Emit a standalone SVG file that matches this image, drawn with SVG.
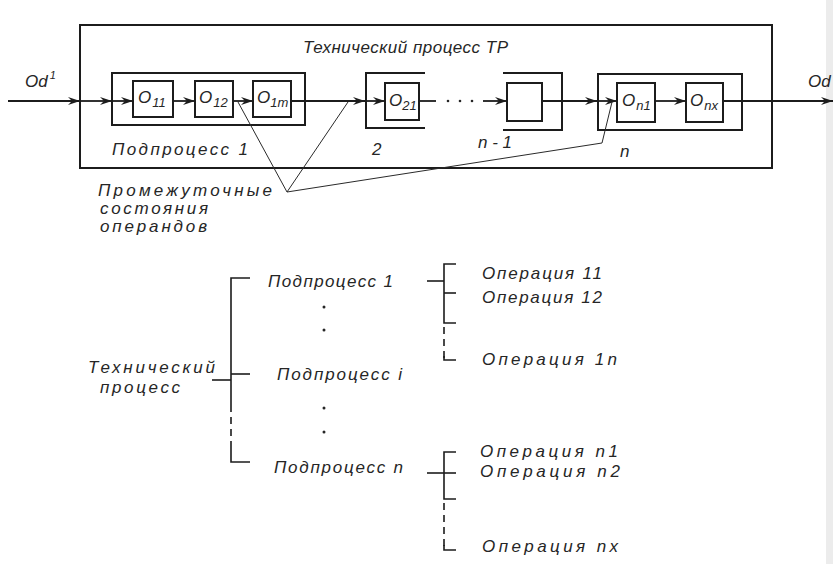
<svg xmlns="http://www.w3.org/2000/svg" width="833" height="564" viewBox="0 0 833 564">
<defs>
<style>
.bx{fill:none;stroke:#1c1c1c;stroke-width:2}
.fl{fill:none;stroke:#1c1c1c;stroke-width:1.8}
.ld{fill:none;stroke:#2a2a2a;stroke-width:1}
.tr{fill:none;stroke:#1c1c1c;stroke-width:1.6}
.ds{stroke-dasharray:7 5}
text{font-family:"Liberation Sans","DejaVu Sans",sans-serif;font-style:italic;font-size:17px;fill:#262626}
.sub{font-size:13px}
.sup{font-size:11px}
.dot{fill:#262626}
</style>
<marker id="ah" markerUnits="userSpaceOnUse" markerWidth="13" markerHeight="8" refX="12" refY="4" orient="auto">
<path d="M0,0 L12,4 L0,8 L4,4 Z" fill="#1c1c1c"/>
</marker>
</defs>
<rect x="0" y="0" width="833" height="564" fill="#ffffff"/>
<rect x="826" y="0" width="7" height="564" fill="#ececec"/>

<g id="outer-process">
<rect class="bx" x="80" y="25" width="692" height="143"/>
<text x="303" y="53" textLength="205">Технический процесс ТР</text>
</g>

<g id="subprocess-1">
<rect class="bx" x="112" y="73" width="193" height="52"/>
<text x="112" y="155" textLength="136">Подпроцесс 1</text>
</g>
<g id="op-11">
<rect class="bx" x="133" y="81" width="40" height="36"/>
<text x="138" y="103">O<tspan class="sub" dx="1" dy="4">11</tspan></text>
</g>
<g id="op-12">
<rect class="bx" x="195" y="81" width="38" height="36"/>
<text x="199" y="103">O<tspan class="sub" dx="1" dy="4">12</tspan></text>
</g>
<g id="op-1m">
<rect class="bx" x="253" y="81" width="38" height="36"/>
<text x="257" y="103">O<tspan class="sub" dy="4">1m</tspan></text>
</g>

<g id="subprocess-2">
<path class="bx" d="M425,73 H366 V128 H425"/>
<text x="372" y="155">2</text>
</g>
<g id="op-21">
<rect class="bx" x="385" y="83" width="34" height="37"/>
<text x="389" y="106">O<tspan class="sub" dy="4">21</tspan></text>
</g>

<g id="subprocess-n-1">
<path class="bx" d="M503,73 H562 V130 H503"/>
<rect class="bx" x="507" y="83" width="35" height="38"/>
<text x="478" y="148" textLength="34">n-1</text>
</g>

<g id="subprocess-n">
<rect class="bx" x="598" y="74" width="144" height="56"/>
<text x="620" y="157">n</text>
</g>
<g id="op-n1">
<rect class="bx" x="617" y="83" width="38" height="39"/>
<text x="622" y="106">O<tspan class="sub" dx="1" dy="4">n1</tspan></text>
</g>
<g id="op-nx">
<rect class="bx" x="686" y="83" width="37" height="39"/>
<text x="690" y="106">O<tspan class="sub" dx="1" dy="4">nx</tspan></text>
</g>

<g id="input-label">
<text x="25" y="87">Od<tspan class="sup" dx="2" dy="-8">1</tspan></text>
</g>
<g id="output-label">
<text x="808" y="87">Od</text>
</g>

<g id="intermediate-label">
<text x="98" y="196" textLength="174">Промежуточные</text>
<text x="100" y="214" textLength="108">состояния</text>
<text x="100" y="232" textLength="107">операндов</text>
</g>

<g id="connectors">
<line class="fl" x1="8" y1="101" x2="80" y2="101" marker-end="url(#ah)"/>
<line class="fl" x1="80" y1="101" x2="112" y2="101" marker-end="url(#ah)"/>
<line class="fl" x1="112" y1="101" x2="133" y2="101" marker-end="url(#ah)"/>
<line class="fl" x1="173" y1="101" x2="195" y2="101" marker-end="url(#ah)"/>
<line class="fl" x1="233" y1="101" x2="253" y2="101" marker-end="url(#ah)"/>
<line class="fl" x1="291" y1="101" x2="365" y2="101" marker-end="url(#ah)"/>
<line class="fl" x1="366" y1="101" x2="385" y2="101" marker-end="url(#ah)"/>
<line class="fl" x1="419" y1="101" x2="436" y2="101"/>
<circle class="dot" cx="448" cy="101" r="1.3"/>
<circle class="dot" cx="460" cy="101" r="1.3"/>
<circle class="dot" cx="472" cy="101" r="1.3"/>
<line class="fl" x1="483" y1="101" x2="507" y2="101" marker-end="url(#ah)"/>
<line class="fl" x1="542" y1="101" x2="597" y2="101" marker-end="url(#ah)"/>
<line class="fl" x1="598" y1="101" x2="617" y2="101" marker-end="url(#ah)"/>
<line class="fl" x1="655" y1="101" x2="686" y2="101" marker-end="url(#ah)"/>
<line class="fl" x1="723" y1="101" x2="833" y2="101" marker-end="url(#ah)"/>
<polyline class="ld" points="238,102 287,192 348,102"/>
<polyline class="ld" points="612,102 602,143 287,192"/>

<path class="tr" d="M250,278 H231 V405"/>
<path class="tr ds" d="M231,405 V445"/>
<path class="tr" d="M231,445 V462 H250"/>
<path class="tr" d="M212,380 H231"/>
<path class="tr" d="M231,374 H250"/>

<path class="tr" d="M456,264 H444 V323 H456"/>
<path class="tr" d="M444,293 H456"/>
<path class="tr" d="M427,281 H444"/>
<path class="tr ds" d="M444,327 V358"/>
<path class="tr" d="M444,356 V360 H456"/>

<path class="tr" d="M456,452 H444 V499 H456"/>
<path class="tr" d="M427,473 H456"/>
<path class="tr ds" d="M444,503 V546"/>
<path class="tr" d="M444,545 V550 H456"/>
</g>

<g id="tree-root">
<text x="88" y="373" textLength="127">Технический</text>
<text x="100" y="393" textLength="80">процесс</text>
</g>
<g id="tree-sub-1"><text x="268" y="287" textLength="125">Подпроцесс 1</text></g>
<g id="tree-dots-1">
<circle class="dot" cx="324" cy="307" r="1.5"/>
<circle class="dot" cx="324" cy="330" r="1.5"/>
</g>
<g id="tree-sub-i"><text x="277" y="380" textLength="125">Подпроцесс i</text></g>
<g id="tree-dots-2">
<circle class="dot" cx="324" cy="408" r="1.5"/>
<circle class="dot" cx="324" cy="432" r="1.5"/>
</g>
<g id="tree-sub-n"><text x="274" y="473" textLength="129">Подпроцесс n</text></g>

<g id="tree-op-11"><text x="482" y="279" textLength="120">Операция 11</text></g>
<g id="tree-op-12"><text x="482" y="303" textLength="120">Операция 12</text></g>
<g id="tree-op-1n"><text x="482" y="365" textLength="135">Операция 1n</text></g>
<g id="tree-op-n1"><text x="480" y="457" textLength="138">Операция n1</text></g>
<g id="tree-op-n2"><text x="480" y="477" textLength="140">Операция n2</text></g>
<g id="tree-op-nx"><text x="482" y="552" textLength="136">Операция nx</text></g>
</svg>
